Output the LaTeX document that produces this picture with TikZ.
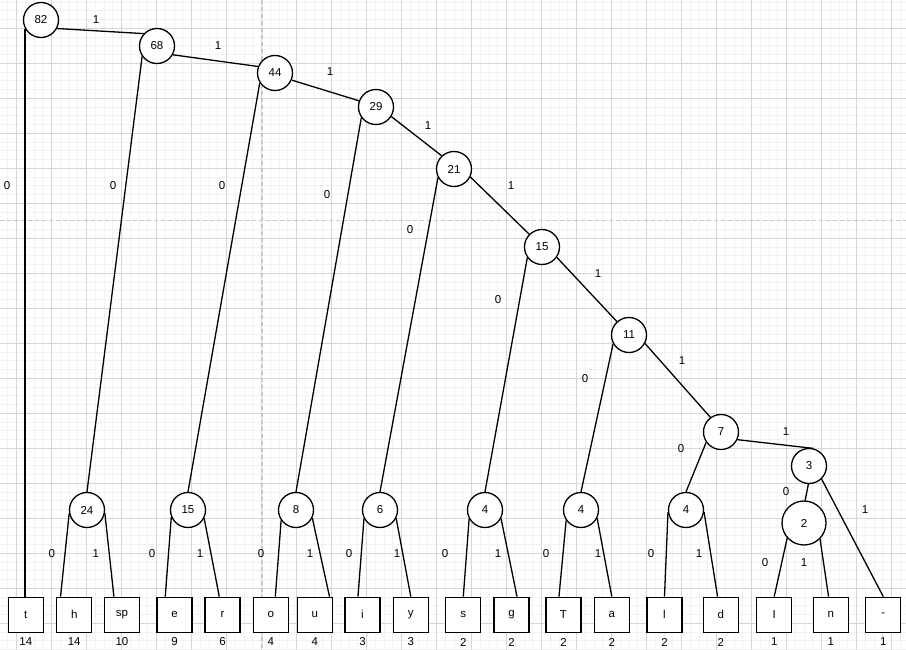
\documentclass[tikz,border=0pt]{standalone}
\usepackage{fontspec}
\setmainfont{Liberation Sans}
\definecolor{minorc}{RGB}{242,242,242}
\definecolor{majorc}{RGB}{214,214,214}
\definecolor{pagec}{RGB}{200,200,200}
\begin{document}
\begin{tikzpicture}[x=1pt,y=-1pt,
  font=\fontsize{11.5}{13}\selectfont,
  cnode/.style={circle,draw,line width=1.3pt,fill=white,minimum size=35pt,inner sep=0pt},
  bignode/.style={cnode,minimum size=44pt},
  leaf/.style={rectangle,draw,line width=1.3pt,fill=white,minimum size=35pt,inner sep=0pt},
  edge/.style={line width=1.3pt},
  lbl/.style={inner sep=0pt},
  minorline/.style={draw=minorc,line width=1pt},
  majorline/.style={draw=majorc,line width=1pt},
  pageline/.style={draw=pagec,line width=1.6pt,dash pattern=on 4pt off 3pt}]
\useasboundingbox (0,0) rectangle (906,650);
\fill[white] (0,0) rectangle (906,650);
% grid
\foreach \i in {0,...,103} {\draw[minorline] ({7.95+8.75*\i},0) -- ++(0,650);}
\foreach \j in {0,...,74} {\draw[minorline] (0,{2.05+8.75*\j}) -- ++(906,0);}
\foreach \i in {0,...,25} {\draw[majorline] ({16.7+35*\i},0) -- ++(0,650);}
\foreach \j in {0,...,17} {\draw[majorline] (0,{28.3+35*\j}) -- ++(906,0);}
\draw[pageline] (261.7,0) -- (261.7,650);
\draw[pageline] (0,220.7) -- (906,220.7);
% internal nodes
\node[cnode] (c82) at (41,20) {82};
\node[cnode] (c68) at (157,46) {68};
\node[cnode] (c44) at (275,73) {44};
\node[cnode] (c29) at (376,107) {29};
\node[cnode] (c21) at (454,169) {21};
\node[cnode] (c15) at (542,247) {15};
\node[cnode] (c11) at (629,335) {11};
\node[cnode] (c7) at (721,432) {7};
\node[cnode] (c3) at (809,466) {3};
\node[bignode] (c2) at (804,523) {2};
\node[cnode] (n24) at (87,510) {24};
\node[cnode] (n15) at (188,510) {15};
\node[cnode] (n8) at (296,510) {8};
\node[cnode] (n6) at (380,510) {6};
\node[cnode] (n4a) at (485,510) {4};
\node[cnode] (n4b) at (581,510) {4};
\node[cnode] (n4c) at (686,510) {4};
% leaves and counts
\foreach \nm/\x/\t/\c in {t/25.8/t/14, h/74.2/h/14, sp/122/sp/10, e/174.5/e/9, r/222.5/r/6,
  o/270.8/o/4, u/314.8/u/4, i/362.5/i/3, y/410.8/y/3, s/463.3/s/2, g/511.5/g/2,
  T/563.5/T/2, a/611.8/a/2, l/664.5/l/2, d/720.8/d/2, I/774.2/I/1, n/830.8/n/1, dash/883.3/-/1}
{
  \node[leaf] (l\nm) at (\x,614.8) {\t};
  \node[lbl] (cnt\nm) at (\x,642) {\c};
}
% edges
\draw[edge] (c82.208) -- (c82.208 |- lt.north);
\draw[edge] (c82.332) -- (c68.137);
\draw[edge] (c68.215) -- (n24.north);
\draw[edge] (c68.331) -- (c44.159);
\draw[edge] (c44.213) -- (n15.north);
\draw[edge] (c44.337) -- (c29.160);
\draw[edge] (c29.216) -- (n8.north);
\draw[edge] (c29.328) -- (c21.133);
\draw[edge] (c21.208) -- (n6.north);
\draw[edge] (c21.334) -- (c15.135);
\draw[edge] (c15.216) -- (n4a.north);
\draw[edge] (c15.325) -- (c11.132);
\draw[edge] (c11.209) -- (n4b.north);
\draw[edge] (c11.332) -- (c7.126);
\draw[edge] (c7.215) -- (n4c.north);
\draw[edge] (c7.335) -- (c3.76);
\draw[edge] (c3.268) -- (c2.87);
\draw[edge] (c3.314) -- (ldash.north);
\draw[edge] (c2.222) -- (lI.north);
\draw[edge] (c2.315) -- (ln.97);
\draw[edge] (n24.191) -- (lh.127);
\draw[edge] (n24.350) -- (lsp.114);
\draw[edge] (n15.203) -- (le.117);
\draw[edge] (n15.333) -- (lr.100);
\draw[edge] (n8.215) -- (lo.76);
\draw[edge] (n8.334) -- (lu.51);
\draw[edge] (n6.208) -- (li.104);
\draw[edge] (n6.333) -- (ly.north);
\draw[edge] (n4a.209) -- (ls.north);
\draw[edge] (n4a.332) -- (lg.73);
\draw[edge] (n4b.215) -- (lT.104);
\draw[edge] (n4b.333) -- (la.north);
\draw[edge] (n4c.187) -- (ll.north);
\draw[edge] (n4c.354) -- (ld.100);
% edge labels
\foreach \x/\y/\t in {96/20/1, 218/46/1, 330/72/1, 428/126/1, 511/186/1, 598/274/1, 682/361/1, 786/432/1, 865/510/1,
  7/186/0, 113/186/0, 222/186/0, 327/195/0, 410/230/0, 498/300/0, 585/379/0, 681/449/0, 786/492/0,
  51.7/554/0, 95.7/554/1, 152/554/0, 200/554/1, 261/554/0, 310/554/1, 349/554/0, 397/554/1,
  445/554/0, 498/554/1, 546/554/0, 598/554/1, 651/554/0, 699/554/1, 765/562.7/0, 804/562.7/1}
{ \node[lbl] at (\x,\y) {\t}; }
\end{tikzpicture}
\end{document}
